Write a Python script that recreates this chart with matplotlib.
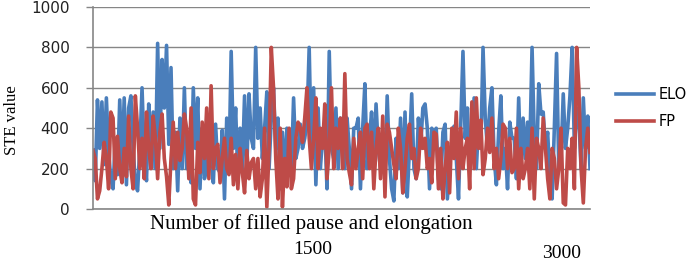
import numpy as np
import matplotlib
matplotlib.use("Agg")
import matplotlib.pyplot as plt

# STE values, left to right
elo = [290, 140, 540, 300, 530, 220, 550, 280, 150, 100,
       350, 170, 540, 200, 550, 120, 500, 560, 300, 130,
       90, 300, 600, 260, 140, 520, 300, 480, 200, 820,
       300, 740, 500, 810, 320, 700, 200, 380, 90, 450,
       200, 600,
       200, 250, 130, 600, 300, 550, 100, 400, 150, 200,
       380, 250, 130, 420, 200, 180, 390, 50, 450, 200,
       780, 300, 500, 150, 400, 200, 560, 200, 570, 350,
       300, 800, 350, 500, 250, 400, 580, 200, 450,
       600, 300, 450, 100, 380, 150, 400, 300, 180, 550,
       250, 300, 420, 300, 350, 430, 800, 250, 600, 120,
       500, 200, 350, 400, 100, 780, 300, 250, 500, 200,
       450, 400, 200, 450, 300, 100, 400,
       400, 450, 100, 400, 620, 200, 350, 480, 200, 520,
       300, 200, 350, 150, 560, 250, 100, 40, 350, 200,
       450, 80, 480, 60, 300, 570, 200, 150, 450, 300,
       500, 520, 400, 100, 400, 350,
       400, 150, 100, 380, 420, 50, 200, 350, 410, 250,
       50, 420, 780, 350, 500, 200, 300, 550, 200, 420,
       300, 800, 450, 300, 500, 600, 250, 120, 380, 560,
       200, 300, 100, 430, 350,
       350, 150, 550, 200, 450, 250, 430, 300, 800, 350,
       200, 620, 470, 480, 300, 380, 150, 50, 400, 770,
       200, 250, 570, 300, 400, 560, 800, 300, 500, 440,
       200, 550, 300, 460, 200]

fp = [290, 250, 50, 90, 200, 330, 250, 100, 480, 450,
      150, 360, 200, 130, 300, 160, 460, 200, 100, 560,
      400, 200, 350, 150, 480, 300, 200, 460, 350, 150,
      380, 470, 250, 160, 20, 250, 430, 200, 380, 240,
      300, 470,
      400, 150, 500, 50, 20, 330, 180, 430, 250, 500,
      150, 610, 200, 300, 320, 130, 250, 350, 200, 170,
      350, 120, 270, 100, 300, 180, 80, 290, 150, 230,
      250, 100, 250, 60, 150, 400, 10, 300, 800,
      600, 250, 50, 400, 10, 250, 110, 400, 100, 150,
      350, 430, 400, 330, 450, 600, 350, 200, 350, 550,
      200, 400, 300, 520, 150, 300, 600, 200, 400, 300,
      450, 200, 670, 250, 180, 120, 350,
      200, 300, 380, 150, 400, 420, 200, 380, 100, 300,
      400, 150, 460, 60, 420, 380, 300, 220, 150, 400,
      300, 80, 200, 350, 420, 250, 300, 150, 200, 400,
      300, 350, 200, 250, 130, 380,
      370, 100, 300, 50, 200, 330, 80, 400, 250, 480,
      150, 400, 200, 300, 350, 100, 530, 200, 550, 300,
      440, 170, 250, 400, 280, 450, 200, 300, 150, 250,
      420, 400, 200, 350, 180,
      200, 400, 100, 300, 150, 200, 300, 100, 400, 50,
      350, 300, 200, 450, 300, 150, 50, 300, 250, 100,
      200, 400, 30, 20, 300, 200, 350, 100, 800, 600,
      200, 30, 300, 400, 280]

yticks = [0, 200, 400, 600, 800, 1000]
xtick_labels = ["1500", "3000"]

blue = "#4a7ebb"
red = "#be4b48"
grid_col = "#868686"

fig = plt.figure(figsize=(6.97, 2.66), dpi=100)
ax = fig.add_axes([93 / 697, 1 - 209 / 266, (590 - 93) / 697, 202 / 266])

x_elo = np.arange(len(elo))
x_fp = np.arange(len(fp))
ax.plot(x_elo, elo, color=blue, lw=2.6, label="ELO", solid_joinstyle="round")
ax.plot(x_fp, fp, color=red, lw=2.6, label="FP", solid_joinstyle="round")

ax.set_xlim(0, max(len(elo), len(fp)) - 1)
ax.set_ylim(0, 1000)
ax.set_yticks(yticks)
ax.set_yticklabels([str(v) for v in yticks], fontsize=11, color="#222222")
ax.set_xticks([])
ax.yaxis.grid(True, color=grid_col, lw=1)
ax.set_axisbelow(True)
ax.tick_params(axis="y", length=5, width=1, color=grid_col, pad=12)
for s in ["top", "right"]:
    ax.spines[s].set_visible(False)
for s in ["left", "bottom"]:
    ax.spines[s].set_color(grid_col)
    ax.spines[s].set_linewidth(1.2)

serif = "Liberation Serif"
fig.text(12 / 697, 1 - 120 / 266, "STE value", rotation=90, ha="center",
         va="center", family=serif, fontsize=12)
fig.text(311 / 697, 1 - 224 / 266, "Number of filled pause and elongation",
         ha="center", va="center", family=serif, fontsize=15)
fig.text(313 / 697, 1 - 250 / 266, xtick_labels[0], ha="center", va="center",
         family=serif, fontsize=14)
fig.text(562 / 697, 1 - 253 / 266, xtick_labels[1], ha="center", va="center",
         family=serif, fontsize=14)

fig.legend(loc="upper left", bbox_to_anchor=(616 / 697, 1 - 87 / 266),
           frameon=False, fontsize=10.5, handlelength=2.6, handletextpad=0.35,
           labelspacing=0.85, borderpad=0, borderaxespad=0)

fig.savefig("out.png", dpi=100)
